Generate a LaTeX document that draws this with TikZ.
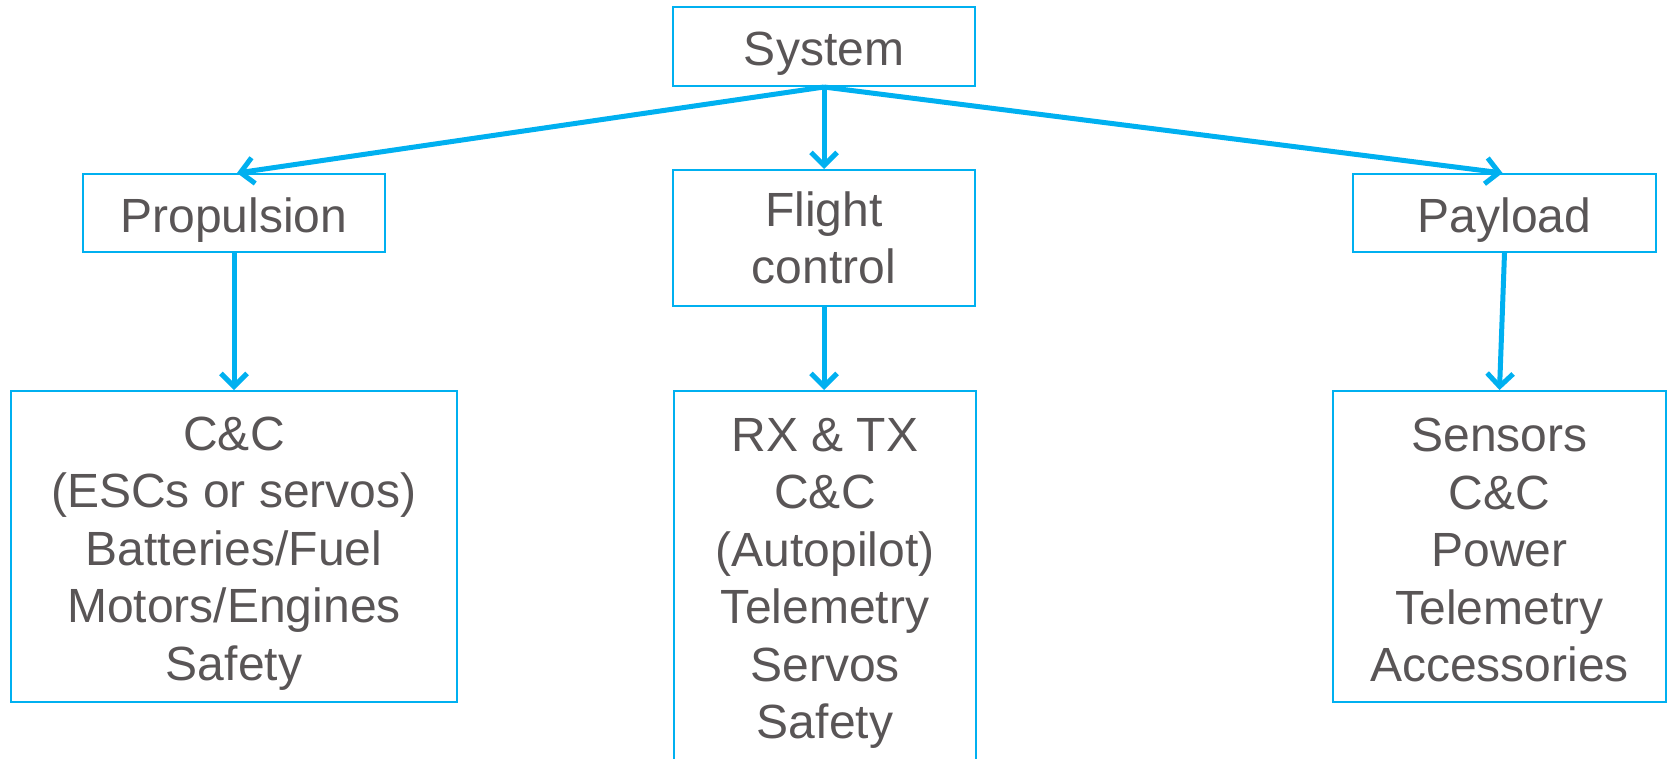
\documentclass[tikz,border=0pt]{standalone}
\usepackage{fontspec}
\setmainfont{Liberation Sans}
\usetikzlibrary{arrows.meta}
\definecolor{lineblue}{RGB}{0,176,240}
\definecolor{txtgray}{RGB}{89,85,86}
\begin{document}
\begin{tikzpicture}[x=1pt,y=-1pt,
  box/.style={draw=lineblue, line width=2pt, rectangle, inner sep=0pt,
    text=txtgray, font=\fontsize{48}{57.5}\selectfont, align=center},
  onel/.style={text height=45pt, text depth=7pt},
  conn/.style={draw=lineblue, line width=5pt, -{Straight Barb[length=13pt,width=26pt]}}
]
\useasboundingbox (0,0) rectangle (1667,758);
\clip (0,0) rectangle (1667,758);
\fill[white] (0,0) rectangle (1667,758);

\node[box, onel, minimum width=302pt, minimum height=79pt] (sys) at (824,46.5) {System};
\node[box, onel, minimum width=302pt, minimum height=78pt] (prop) at (234,213) {Propulsion};
\node[box, minimum width=302pt, minimum height=136pt] (fc) at (824,238) {Flight\\control};
\node[box, onel, minimum width=303pt, minimum height=78pt] (pay) at (1504.5,213) {Payload};

\node[box, minimum width=446pt, minimum height=311pt] (propb) at (234,546.5)
  {\rule{0pt}{47.8pt}C\&C\\(ESCs or servos)\\Batteries/Fuel\\Motors/Engines\\Safety};
\node[box, minimum width=302pt, minimum height=376pt] (fcb) at (825,579)
  {\rule{0pt}{41.6pt}RX \& TX\\C\&C\\(Autopilot)\\Telemetry\\Servos\\Safety};
\node[box, minimum width=333pt, minimum height=311pt] (payb) at (1499.5,546.5)
  {\rule{0pt}{41.4pt}Sensors\\C\&C\\Power\\Telemetry\\Accessories};

\draw[conn] (sys.south) -- ([xshift=3pt]prop.north);
\draw[conn] (sys.south) -- (fc.north);
\draw[conn] (sys.south) -- ([xshift=-2pt]pay.north);
\draw[conn] (prop.south) -- (propb.north);
\draw[conn] (fc.south) -- ([xshift=-1pt]fcb.north);
\draw[conn] (pay.south) -- (payb.north);
\end{tikzpicture}
\end{document}
